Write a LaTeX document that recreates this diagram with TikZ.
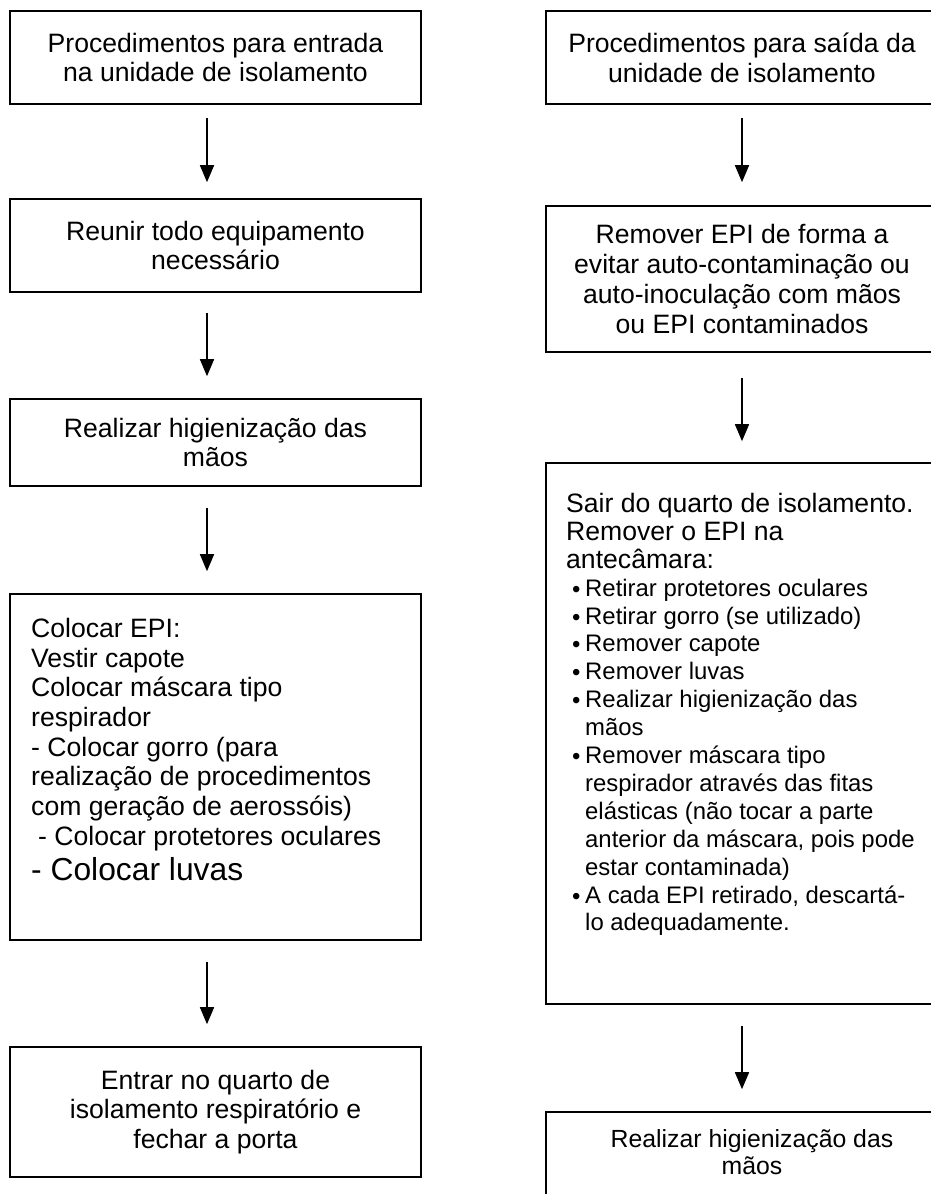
\documentclass[tikz,border=0pt]{standalone}
\usepackage{fontspec}
\setmainfont{Liberation Sans}
\usetikzlibrary{arrows.meta}
\newcommand\fsnorm{\fontsize{26.6}{29.7}\selectfont}
\newcommand\fslist{\fontsize{26.6}{27.9}\selectfont}
\newcommand\fsitem{\fontsize{23.9}{27.9}\selectfont}
\newcommand\fsbig{\fontsize{31.8}{35}\selectfont}
\newcommand\bl{\makebox[19pt][l]{\hspace*{6pt}\raisebox{-1pt}{•}}}
\newcommand\ind{\hspace*{19pt}}
\tikzset{
  box/.style={draw, line width=1.6pt, inner sep=0pt, align=center, font=\fsnorm},
  lbox/.style={box, minimum width=411pt},
  rbox/.style={box, minimum width=392pt},
  txt/.style={inner sep=0pt, align=left},
  arr/.style={line width=1.6pt, -{Triangle[width=14pt,length=17pt]}},
}
\begin{document}
\begin{tikzpicture}[x=1pt,y=-1pt]
\useasboundingbox (0,0) rectangle (931,1194);
% left column
\node[lbox, minimum height=93pt] (L1) at (215.5,57.5) {Procedimentos para entrada\\na unidade de isolamento};
\node[lbox, minimum height=93pt] (L2) at (215.5,245.5) {Reunir todo equipamento\\necessário};
\node[lbox, minimum height=87pt] (L3) at (215.5,442.5) {Realizar higienização das\\mãos};
\node[lbox, minimum height=346pt] (L4) at (215.5,767) {};
\node[txt, font=\fsnorm, anchor=north west] (L4t) at (31,618) {Colocar EPI:\\
Vestir capote\\
Colocar máscara tipo\\
respirador\\
- Colocar gorro (para\\
realização de procedimentos\\
com geração de aerossóis)\\
\hspace*{7pt}- Colocar protetores oculares\\[5pt]
{\fsbig - Colocar luvas}};
\node[lbox, minimum height=130pt] (L5) at (215.5,1112) {Entrar no quarto de\\isolamento respiratório e\\fechar a porta};
% right column
\node[rbox, minimum height=93pt] (R1) at (742,57.5) {Procedimentos para saída da\\unidade de isolamento};
\node[rbox, minimum height=146pt] (R2) at (742,279) {Remover EPI de forma a\\evitar auto-contaminação ou\\auto-inoculação com mãos\\ou EPI contaminados};
\node[rbox, minimum height=541pt] (R3) at (742,733.5) {};
\node[txt, font=\fslist, anchor=north west] (R3t) at (566,493) {Sair do quarto de isolamento.\\
Remover o EPI na\\
antecâmara:\\
{\fsitem\bl Retirar protetores oculares}\\
{\fsitem\bl Retirar gorro (se utilizado)}\\
{\fsitem\bl Remover capote}\\
{\fsitem\bl Remover luvas}\\
{\fsitem\bl Realizar higienização das}\\
{\fsitem\ind mãos}\\
{\fsitem\bl Remover máscara tipo}\\
{\fsitem\ind respirador através das fitas}\\
{\fsitem\ind elásticas (não tocar a parte}\\
{\fsitem\ind anterior da máscara, pois pode}\\
{\fsitem\ind estar contaminada)}\\
{\fsitem\bl A cada EPI retirado, descartá-}\\
{\fsitem\ind lo adequadamente.}};
\node[rbox, minimum height=118pt] (R4) at (742,1171) {};
\node[inner sep=0pt, align=center, font=\fontsize{24.8}{27}\selectfont] (R4t) at (752,1152) {Realizar higienização das\\mãos};
% arrows
\draw[arr] ([xshift=-8.5pt,yshift=-13pt]L1.south) -- ([xshift=-8.5pt,yshift=16pt]L2.north);
\draw[arr] ([xshift=-8.5pt,yshift=-20pt]L2.south) -- ([xshift=-8.5pt,yshift=22pt]L3.north);
\draw[arr] ([xshift=-8.5pt,yshift=-21pt]L3.south) -- ([xshift=-8.5pt,yshift=22pt]L4.north);
\draw[arr] ([xshift=-8.5pt,yshift=-21pt]L4.south) -- ([xshift=-8.5pt,yshift=22pt]L5.north);
\draw[arr] ([yshift=-13pt]R1.south) -- ([yshift=23pt]R2.north);
\draw[arr] ([yshift=-25pt]R2.south) -- ([yshift=21pt]R3.north);
\draw[arr] ([yshift=-21pt]R3.south) -- ([yshift=22pt]R4.north);
\end{tikzpicture}
\end{document}
